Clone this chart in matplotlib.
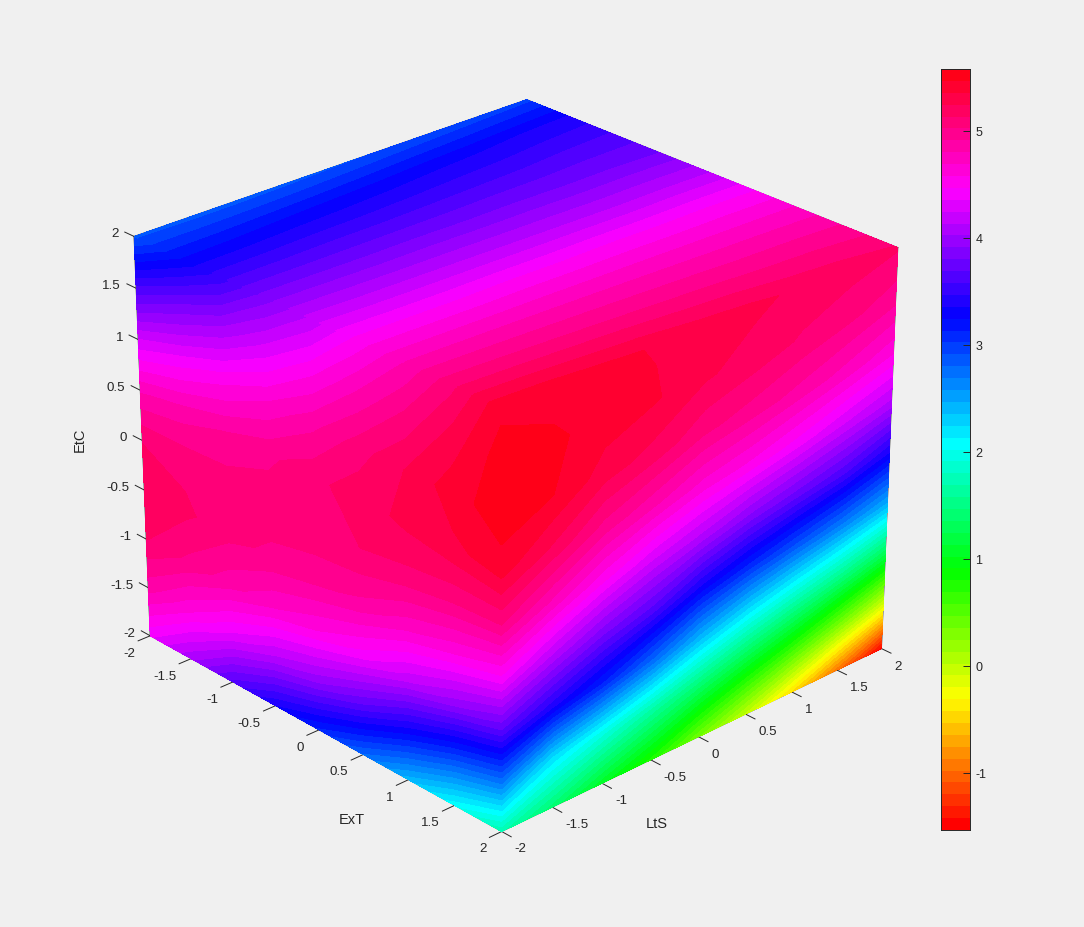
import numpy as np
import matplotlib
matplotlib.use('Agg')
import matplotlib.pyplot as plt
from matplotlib.colors import ListedColormap, BoundaryNorm, hsv_to_rgb
from mpl_toolkits.mplot3d import proj3d

plt.rcParams['font.family'] = ['Liberation Sans', 'DejaVu Sans']

grid = np.arange(-2, 2.01, 0.5)
tick_vals = [-2, -1.5, -1, -0.5, 0, 0.5, 1, 1.5, 2]
tick_text = ['-2', '-1.5', '-1', '-0.5', '0', '0.5', '1', '1.5', '2']
cbar_ticks = [-1, 0, 1, 2, 3, 4, 5]
vmin, vmax = -1.53, 5.58

# left face, LtS = -2: rows are ExT -2..2, columns EtC -2..2
front_ext = [
    [4.38, 4.85, 5.14, 5.21, 5.13, 4.78, 4.25, 3.60, 2.88],
    [4.05, 4.60, 5.00, 5.16, 5.10, 4.85, 4.40, 3.85, 3.21],
    [3.65, 4.35, 4.85, 5.06, 5.08, 4.92, 4.55, 4.05, 3.50],
    [3.35, 4.12, 4.70, 5.00, 5.08, 5.00, 4.70, 4.30, 3.85],
    [3.10, 3.95, 4.58, 4.95, 5.10, 5.10, 4.88, 4.55, 4.15],
    [2.78, 3.68, 4.42, 4.88, 5.13, 5.20, 5.08, 4.82, 4.50],
    [2.40, 3.32, 4.18, 4.72, 5.10, 5.27, 5.25, 5.05, 4.80],
    [2.05, 3.00, 3.95, 4.60, 5.05, 5.33, 5.42, 5.30, 5.10],
    [1.70, 2.75, 3.70, 4.45, 5.03, 5.41, 5.53, 5.53, 5.44],
]
# right face, ExT = 2: rows are LtS -2..2, columns EtC -2..2
front_lts = [
    [1.70, 2.75, 3.70, 4.45, 5.03, 5.41, 5.53, 5.53, 5.44],
    [1.40, 2.24, 3.40, 4.13, 4.77, 5.22, 5.47, 5.49, 5.42],
    [1.05, 1.95, 3.13, 3.85, 4.50, 4.98, 5.30, 5.42, 5.38],
    [0.75, 1.65, 2.79, 3.65, 4.27, 4.82, 5.20, 5.37, 5.35],
    [0.35, 1.35, 2.40, 3.33, 4.10, 4.65, 5.05, 5.26, 5.30],
    [-0.02, 1.05, 2.10, 3.10, 3.90, 4.55, 4.97, 5.20, 5.27],
    [-0.45, 0.75, 1.85, 2.90, 3.75, 4.41, 4.87, 5.12, 5.22],
    [-0.95, 0.40, 1.60, 2.70, 3.60, 4.25, 4.75, 5.05, 5.19],
    [-1.50, 0.00, 1.30, 2.46, 3.35, 4.10, 4.60, 4.95, 5.15],
]
# top face, EtC = 2: rows are LtS -2..2, columns ExT -2..2
top_etc = [
    [2.88, 3.21, 3.53, 3.85, 4.18, 4.50, 4.80, 5.10, 5.44],
    [2.87, 3.22, 3.53, 3.84, 4.16, 4.49, 4.79, 5.08, 5.42],
    [2.87, 3.24, 3.54, 3.83, 4.15, 4.48, 4.78, 5.06, 5.38],
    [2.88, 3.26, 3.54, 3.83, 4.14, 4.48, 4.77, 5.04, 5.35],
    [2.90, 3.28, 3.55, 3.82, 4.13, 4.47, 4.76, 5.02, 5.30],
    [2.92, 3.31, 3.56, 3.82, 4.12, 4.47, 4.75, 5.00, 5.27],
    [2.94, 3.33, 3.57, 3.81, 4.11, 4.46, 4.74, 4.98, 5.22],
    [2.96, 3.36, 3.59, 3.81, 4.11, 4.46, 4.73, 4.97, 5.19],
    [2.98, 3.38, 3.60, 3.80, 4.10, 4.45, 4.72, 4.95, 5.15],
]

W, H = 1084, 927
BG = '#f0f0f0'
INK = '#262626'
fig = plt.figure(figsize=(W / 100, H / 100), dpi=100, facecolor=BG)
ax = fig.add_axes([80.95 / W, 46.66 / H, 844.99 / W, 844.99 / H], projection='3d')
ax.set_box_aspect((1, 0.997, 0.842))
ax.view_init(elev=26.197, azim=-42.998)
ax.set_proj_type('persp', focal_length=0.991)
ax.set_axis_off()
ax.patch.set_alpha(0)

levels = np.linspace(vmin, vmax, 65)
hues = np.arange(64) / 64
cmap = ListedColormap(hsv_to_rgb(np.c_[hues, np.ones(64), np.ones(64)]))
norm = BoundaryNorm(levels, 64)

G1, G2 = np.meshgrid(grid, grid, indexing='ij')
ax.contourf(G1, np.array(front_ext), G2, levels=levels, cmap=cmap, norm=norm, zdir='y', offset=-2)
ax.contourf(np.array(front_lts), G1, G2, levels=levels, cmap=cmap, norm=norm, zdir='x', offset=2)
ax.contourf(G2, G1, np.array(top_etc), levels=levels, cmap=cmap, norm=norm, zdir='z', offset=2)
ax.set_xlim(-2, 2); ax.set_ylim(-2, 2); ax.set_zlim(-2, 2)

edges = [((-2,2),(-2,-2),(-2,-2)), ((2,2),(-2,2),(-2,-2)), ((-2,-2),(-2,-2),(-2,2)),
         ((2,2),(2,2),(-2,2)), ((-2,-2),(-2,2),(2,2)), ((-2,2),(2,2),(2,2))]
for ex, ey, ez in edges:
    ax.plot(ex, ey, ez, color=INK, lw=0.7)

def label(x, y, z, txt, dx, dy, ha):
    u, v, _ = proj3d.proj_transform(x, y, z, ax.get_proj())
    ax.annotate(txt, xy=(u, v), xytext=(dx, -dy), textcoords='offset pixels', ha=ha, va='center',
                fontsize=9.6, color=INK, annotation_clip=False)

for v, t_ in zip(tick_vals, tick_text):
    ax.plot((v, v), (-2, -2.12), (-2, -2), color=INK, lw=0.7)
    label(v, -2, -2, t_, -15, 18, 'right')
    ax.plot((2, 2.1), (v, v), (-2, -2), color=INK, lw=0.7)
    label(2, v, -2, t_, 13, 18, 'left')
    ax.plot((-2, -2.11), (-2, -2), (v, v), color=INK, lw=0.7)
    label(-2, -2, v, t_, -15, -2, 'right')

fig.text(352 / W, 1 - 820 / H, 'ExT', ha='center', va='center', fontsize=10.5, color=INK)
fig.text(657 / W, 1 - 824 / H, 'LtS', ha='center', va='center', fontsize=10.5, color=INK)
fig.text(80 / W, 1 - 440 / H, 'EtC', ha='center', va='center', rotation=90, fontsize=10.5, color=INK)

cax = fig.add_axes([941 / W, 1 - 830 / H, 29 / W, 761 / H])
cax.pcolormesh([0, 1], levels, ((levels[:-1] + levels[1:]) / 2).reshape(-1, 1), cmap=cmap, norm=norm)
cax.set_xticks([])
cax.yaxis.tick_right()
cax.set_yticks(cbar_ticks, [str(c) for c in cbar_ticks])
cax.tick_params(axis='y', direction='in', length=5, width=0.7, color=INK, labelcolor=INK, labelsize=9, pad=4)
for sp in cax.spines.values():
    sp.set_color(INK); sp.set_linewidth(0.7)

fig.savefig('out.png', dpi=100, facecolor=BG)
